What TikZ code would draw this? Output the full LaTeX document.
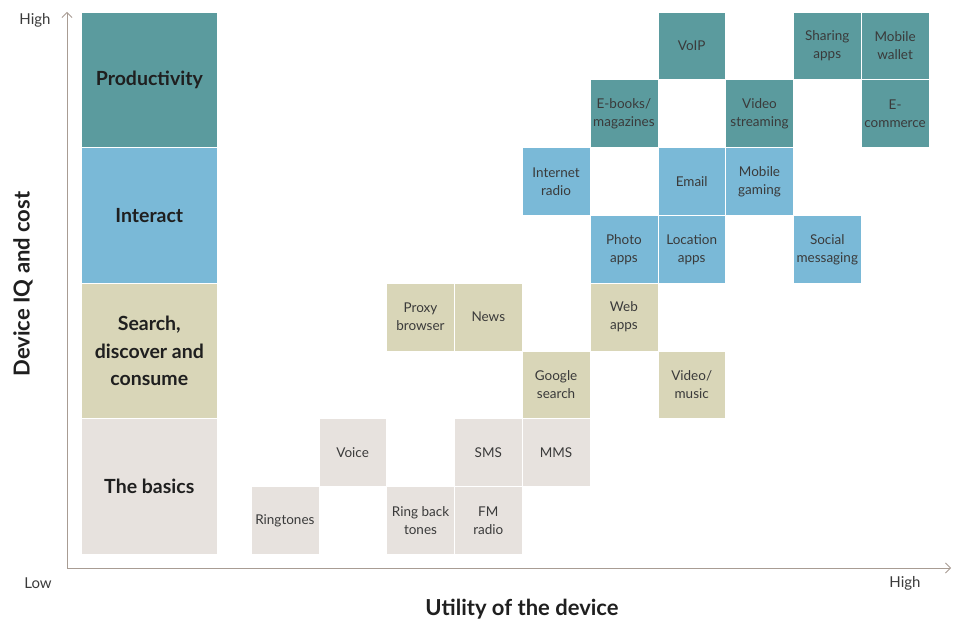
\documentclass[tikz,border=0pt]{standalone}
\usepackage{fontspec}
\setmainfont{Lato}
\usetikzlibrary{arrows.meta}
\definecolor{prodteal}{HTML}{5B9B9E}
\definecolor{interblue}{HTML}{7AB9D7}
\definecolor{searchkhaki}{HTML}{D9D6B8}
\definecolor{basicgrey}{HTML}{E7E2DE}
\definecolor{axisgrey}{HTML}{A89C93}
\definecolor{inkgrey}{HTML}{3A3A3A}

\begin{document}
\begin{tikzpicture}[x=1pt, y=1pt,
	app/.style={draw=white, line width=0.6pt, minimum width=67.8pt, minimum height=67.8pt,
		inner sep=1pt, align=center, text=inkgrey, font=\fontsize{13.5}{18}\selectfont},
	cat/.style={app, minimum width=135.6pt, minimum height=135.6pt, text=black!88,
		font=\bfseries\fontsize{19.5}{27.5}\selectfont},
	tick/.style={text=inkgrey, font=\fontsize{15}{17}\selectfont},
	axtitle/.style={text=black!88, font=\bfseries\fontsize{22}{25}\selectfont},
	axis/.style={draw=axisgrey, line width=0.8pt, {Straight Barb[length=5pt,width=10pt]}-{Straight Barb[length=5pt,width=10pt]}},
	]
    \useasboundingbox (0,0) rectangle (964,621);

    % axes
    \coordinate (ytop) at (67,609);
    \coordinate (origin) at (67,53);
    \coordinate (xend) at (951,53);
    \draw[axis] (ytop) -- (origin) -- (xend);
    \node[tick] (yhigh) at (35,601) {High};
    \node[tick] (xlow) at (38,38) {Low};
    \node[tick] (xhigh) at (905,38) {High};
    \node[axtitle] (xtitle) at (522,12) {Utility of the device};
    \node[axtitle, rotate=90] (ytitle) at (23,337) {Device IQ and cost};

    % grid of categories and apps, one unit = one cell
    \begin{scope}[x=67.8pt, y=-67.8pt, shift={(251pt,609pt)}]
	\node[cat, fill=prodteal] (productivity) at (-1.5,1) {Productivity};
	\node[cat, fill=interblue] (interact) at (-1.5,3) {Interact};
	\node[cat, fill=searchkhaki] (search) at (-1.5,5) {Search,\\discover and\\consume};
	\node[cat, fill=basicgrey] (basics) at (-1.5,7) {The basics};

	\node[app, fill=prodteal] (voip) at (6.5,0.5) {VoIP};
	\node[app, fill=prodteal] (sharing) at (8.5,0.5) {Sharing\\apps};
	\node[app, fill=prodteal] (wallet) at (9.5,0.5) {Mobile\\wallet};
	\node[app, fill=prodteal] (ebooks) at (5.5,1.5) {E-books/\\magazines};
	\node[app, fill=prodteal] (streaming) at (7.5,1.5) {Video\\streaming};
	\node[app, fill=prodteal] (ecommerce) at (9.5,1.5) {E-\\commerce};

	\node[app, fill=interblue] (iradio) at (4.5,2.5) {Internet\\radio};
	\node[app, fill=interblue] (email) at (6.5,2.5) {Email};
	\node[app, fill=interblue] (gaming) at (7.5,2.5) {Mobile\\gaming};
	\node[app, fill=interblue] (photo) at (5.5,3.5) {Photo\\apps};
	\node[app, fill=interblue] (location) at (6.5,3.5) {Location\\apps};
	\node[app, fill=interblue] (social) at (8.5,3.5) {Social\\messaging};

	\node[app, fill=searchkhaki] (proxy) at (2.5,4.5) {Proxy\\browser};
	\node[app, fill=searchkhaki] (news) at (3.5,4.5) {News};
	\node[app, fill=searchkhaki] (webapps) at (5.5,4.5) {Web\\apps};
	\node[app, fill=searchkhaki] (google) at (4.5,5.5) {Google\\search};
	\node[app, fill=searchkhaki] (videomusic) at (6.5,5.5) {Video/\\music};

	\node[app, fill=basicgrey] (voice) at (1.5,6.5) {Voice};
	\node[app, fill=basicgrey] (sms) at (3.5,6.5) {SMS};
	\node[app, fill=basicgrey] (mms) at (4.5,6.5) {MMS};
	\node[app, fill=basicgrey] (ringtones) at (0.5,7.5) {Ringtones};
	\node[app, fill=basicgrey] (ringback) at (2.5,7.5) {Ring back\\tones};
	\node[app, fill=basicgrey] (fmradio) at (3.5,7.5) {FM\\radio};
    \end{scope}
\end{tikzpicture}
\end{document}
